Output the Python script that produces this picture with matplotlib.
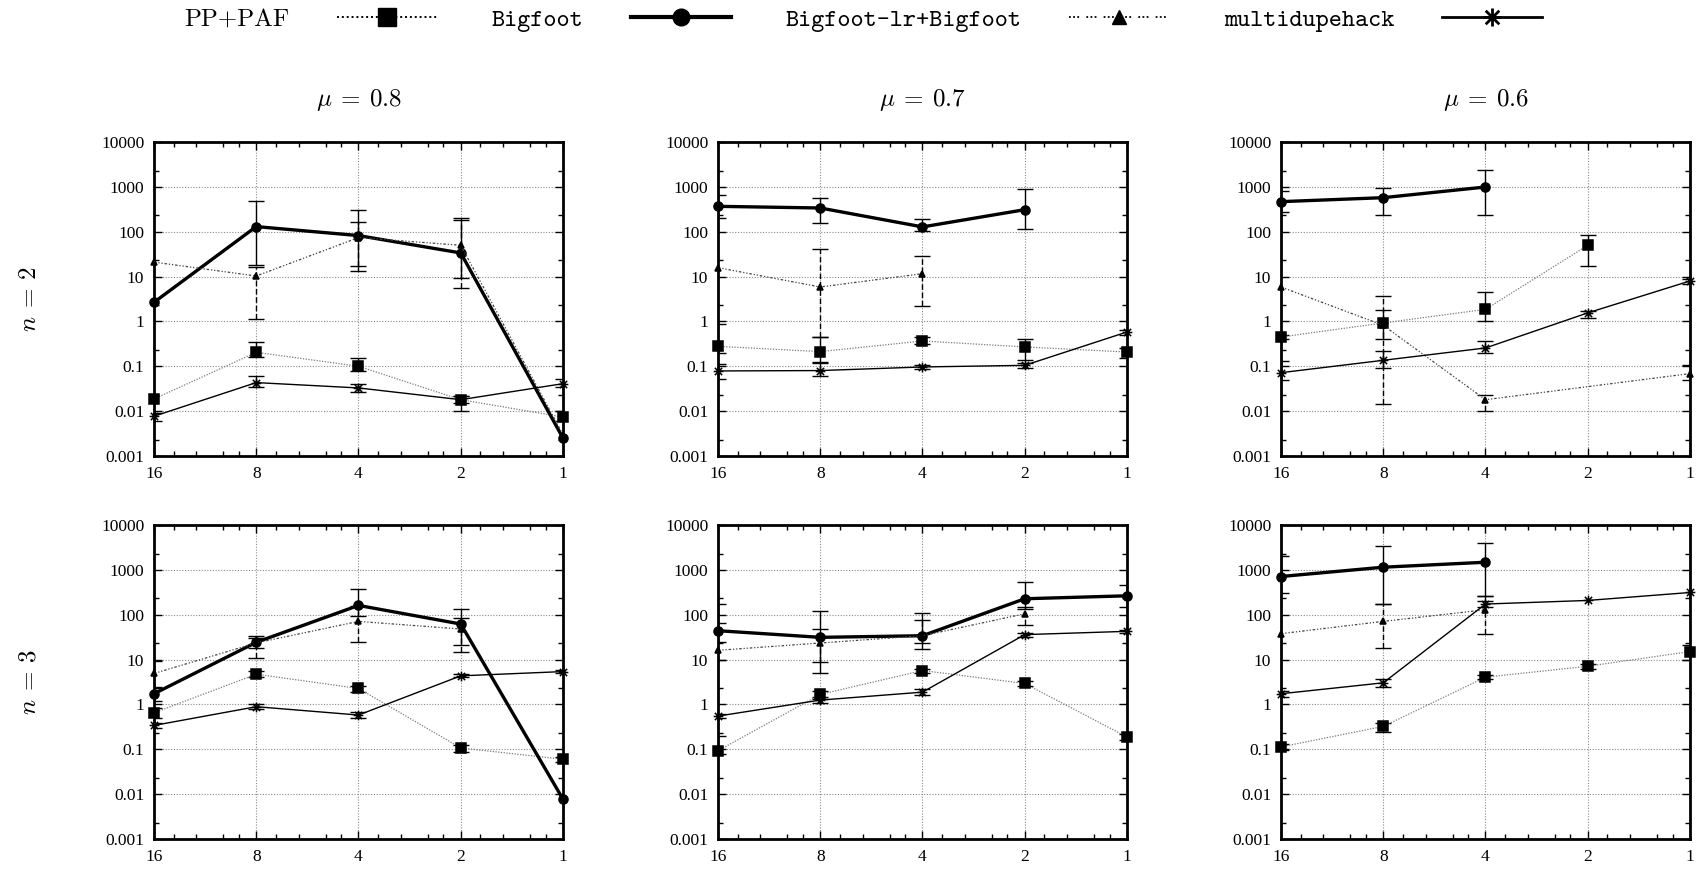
import matplotlib
matplotlib.use('Agg')
import matplotlib.pyplot as plt
from matplotlib.path import Path
from matplotlib.lines import Line2D
from matplotlib.ticker import NullFormatter

plt.rcParams['mathtext.fontset'] = 'cm'
plt.rcParams['font.family'] = ['Liberation Serif', 'DejaVu Serif']

# ---- data -------------------------------------------------------------
x_vals = [16, 8, 4, 2, 1]
x_labels = ['16', '8', '4', '2', '1']
x_minor = [14, 12, 10, 9, 7, 6, 5, 4.5, 3.5, 3, 2.5, 2.25, 1.75, 1.5, 1.25, 1.125]
y_ticks = [0.001, 0.01, 0.1, 1, 10, 100, 1000, 10000]
y_labels = ['0.001', '0.01', '0.1', '1', '10', '100', '1000', '10000']
y_minor = [0.0023, 0.023, 0.23, 2.3, 23, 230, 2300]
mu_values = ['0.8', '0.7', '0.6']
n_values = ['2', '3']
series_names = ['PP+PAF', 'Bigfoot', 'Bigfoot-lr+Bigfoot', 'multidupehack']

# rows = panels: (n=2, mu=0.8), (n=2, 0.7), (n=2, 0.6), (n=3, 0.8), (n=3, 0.7), (n=3, 0.6)
# columns follow x_vals (16, 8, 4, 2, 1); None = no measurement
pp_paf = [
    [0.0187, 0.205, 0.1, 0.018, 0.0074],
    [0.279, 0.212, 0.367, 0.27, 0.208],
    [0.45, 0.925, 1.86, 49.8, None],
    [0.65, 4.72, 2.27, 0.107, 0.06],
    [0.093, 1.67, 5.7, 2.93, 0.188],
    [0.113, 0.324, 4.05, 7.1, 15.1],
]
pp_paf_err = [
    [None, (0.16, 0.355), (0.079, 0.15), (0.0099, 0.022), (0.006, 0.0099)],
    [(0.2, 0.89), (0.125, 0.45), (0.31, 0.45), (0.141, 0.406), (0.15, 0.25)],
    [(0.4, 0.5), (0.4, 1.77), (1.02, 4.6), (16.9, 84.6), None],
    [(0.5, 0.85), (4.0, 5.5), (1.9, 2.6), (0.088, 0.125), (0.052, 0.068)],
    [(0.08, 0.2), (1.3, 2.0), (5.0, 6.3), (2.6, 3.3), (0.16, 0.22)],
    [(0.095, 0.13), (0.24, 0.39), (3.6, 4.5), (6.2, 8.0), (9.9, 21.5)],
]
bigfoot = [
    [2.67, 130, 82, 33.6, 0.0025],
    [368, 338, 128, 310, None],
    [468, 574, 993, None, None],
    [1.73, 24.3, 161, 62, 0.0077],
    [44, 31.3, 34, 227, 264],
    [711, 1146, 1479, None, None],
]
bigfoot_err = [
    [None, (18, 476), (13.3, 310), (9.3, 186), None],
    [(206, 670), (157, 565), (102, 192), (113, 881), None],
    [(270, 800), (232, 960), (240, 2335), None, None],
    [(1.2, 2.3), (18, 34), (95, 378), (21.5, 134), None],
    [(25, 173), (5.1, 123), (17, 109), (136, 541), (148, 464)],
    [(300, 2000), (175, 3410), (264, 3916), None, None],
]
bigfoot_lr = [
    [21, 10.3, 74, 49.8, 0.003],
    [15.8, 5.86, 11.6, None, None],
    [5.86, 0.82, 0.018, None, 0.0687],
    [4.9, 23.5, 71, 48, None],
    [16.1, 23.4, 34, 105, None],
    [37.8, 71, 129, None, None],
]
bigfoot_lr_err = [
    [None, (1.16, 16), (16.9, 165), (5.6, 206), None],
    [None, (0.45, 42), (2.2, 28.3), None, None],
    [None, (0.0147, 3.6), (0.01, 0.023), None, (0.05, 0.109)],
    [(2.5, 9.2), (10.9, 30), (24.7, 160), (14.6, 84), None],
    [(10, 67), (8.7, 48), (23, 77), (60, 150), None],
    [None, (18, 170), (37.8, 264), None, None],
]
multidupehack = [
    [0.0077, 0.0433, 0.0329, 0.018, 0.041],
    [0.0787, 0.0803, 0.0966, 0.105, 0.582],
    [0.072, 0.136, 0.256, 1.55, 7.98],
    [0.34, 0.89, 0.58, 4.34, 5.4],
    [0.55, 1.25, 1.88, 36, 42.6],
    [1.73, 3.03, 173, 208, 313],
]
multidupehack_err = [
    [(0.006, 0.009), (0.035, 0.06), (0.027, 0.04), (0.015, 0.022), (0.035, 0.052)],
    [(0.052, 0.11), (0.061, 0.12), (0.088, 0.105), (0.09, 0.12), (0.5, 0.65)],
    [(0.05, 0.13), (0.093, 0.216), (0.198, 0.36), (1.2, 1.75), (7, 9)],
    [(0.3, 0.38), (0.8, 1.0), (0.5, 0.68), (4.0, 4.7), (5, 5.8)],
    [(0.5, 0.6), (1.1, 1.45), (1.6, 2.2), (32, 40), (40, 45)],
    [(1.5, 2.0), (2.4, 3.6), (150, 200), None, None],
]

# ---- styles -----------------------------------------------------------
star = Path([(0, -1), (0, 1), (-1, 0), (1, 0), (-0.75, -0.75), (0.75, 0.75), (-0.75, 0.75), (0.75, -0.75)],
            [Path.MOVETO, Path.LINETO] * 4)
dashdot = (0, (2, 1.5, 1, 1.5, 1, 1.5))

styles = [
    dict(color='#7a7a7a', ls=(0, (1, 1.2)), lw=0.9, marker='s', ms=6.5, err_ls='-'),
    dict(color='black', ls='-', lw=2.4, marker='o', ms=6.5, err_ls='-'),
    dict(color='#444444', ls=dashdot, lw=0.9, marker='^', ms=4.5, err_ls=(0, (4, 2))),
    dict(color='black', ls='-', lw=1.0, marker=star, ms=7, err_ls='-'),
]
series_vals = [pp_paf, bigfoot, bigfoot_lr, multidupehack]
series_errs = [pp_paf_err, bigfoot_err, bigfoot_lr_err, multidupehack_err]

W, H = 1708, 874
fig = plt.figure(figsize=(W / 100, H / 100), dpi=100)

col_left = [154, 718, 1281]
row_top = [142, 525]
ax_w, ax_h = 409, 314

for r in range(2):
    for c in range(3):
        p = r * 3 + c
        ax = fig.add_axes([col_left[c] / W, 1 - (row_top[r] + ax_h) / H, ax_w / W, ax_h / H])
        ax.set_xscale('log', base=2)
        ax.set_yscale('log')
        ax.set_xlim(16, 1)
        ax.set_ylim(0.001, 10000)
        ax.set_xticks(x_vals)
        ax.set_xticklabels(x_labels)
        ax.set_xticks(x_minor, minor=True)
        ax.set_yticks(y_ticks)
        ax.set_yticklabels(y_labels)
        ax.set_yticks(y_minor, minor=True)
        ax.xaxis.set_minor_formatter(NullFormatter())
        ax.yaxis.set_minor_formatter(NullFormatter())
        ax.tick_params(which='both', direction='in', top=True, right=True, labelsize=12.5, pad=7)
        ax.tick_params(which='major', length=6, width=1)
        ax.tick_params(which='minor', length=3.5, width=1)
        ax.grid(True, which='major', color='#8c8c8c', linestyle=(0, (1, 1.5)), linewidth=0.8)
        for sp in ax.spines.values():
            sp.set_linewidth(2)

        for s in range(4):
            st = styles[s]
            vals = series_vals[s][p]
            errs = series_errs[s][p]
            xs = [x for x, v in zip(x_vals, vals) if v is not None]
            ys = [v for v in vals if v is not None]
            ex, ey, elo, ehi = [], [], [], []
            for x, v, e in zip(x_vals, vals, errs):
                if v is None or e is None:
                    continue
                ex.append(x)
                ey.append(v)
                elo.append(max(v - e[0], 0))
                ehi.append(max(e[1] - v, 0))
            if ex:
                eb = ax.errorbar(ex, ey, yerr=[elo, ehi], fmt='none', ecolor='black',
                                 elinewidth=1.0, capsize=6, capthick=1.0, zorder=3)
                eb.lines[2][0].set_linestyle(st['err_ls'])
            ax.plot(xs, ys, color=st['color'], ls=st['ls'], lw=st['lw'],
                    marker=st['marker'], ms=st['ms'], mfc='black', mec='black',
                    mew=1.1, clip_on=False, zorder=4)

for c in range(3):
    fig.text((col_left[c] + ax_w / 2) / W, 1 - 100 / H, r'$\mu \:=\: %s$' % mu_values[c],
             ha='center', va='center', fontsize=18)
for r in range(2):
    fig.text(30 / W, 1 - (row_top[r] + ax_h / 2) / H, r'$n \:=\: %s$' % n_values[r],
             ha='center', va='center', rotation=90, fontsize=18)

# legend: label first, then the line sample
handles = [
    Line2D([], [], color='black', ls=(0, (1, 1.5)), lw=1.4, marker='s', ms=13, mfc='black', mec='black'),
    Line2D([], [], color='black', ls='-', lw=3, marker='o', ms=12, mfc='black', mec='black'),
    Line2D([], [], color='black', ls=(0, (1, 1.3, 1, 1.3, 1, 4)), lw=1.3, marker='^', ms=10,
           mfc='black', mec='black'),
    Line2D([], [], color='black', ls='-', lw=2, marker=star, ms=13, mew=2, mec='black'),
]
leg = fig.legend(handles, series_names, loc='center', bbox_to_anchor=(863 / W, 1 - 20 / H),
                 ncol=4, markerfirst=False, frameon=False, handlelength=4.0,
                 handletextpad=1.9, columnspacing=2.2, prop={'family': 'cmtt10', 'size': 18})
leg.get_texts()[0].set_family('cmr10')

fig.savefig('out.png', dpi=100)
